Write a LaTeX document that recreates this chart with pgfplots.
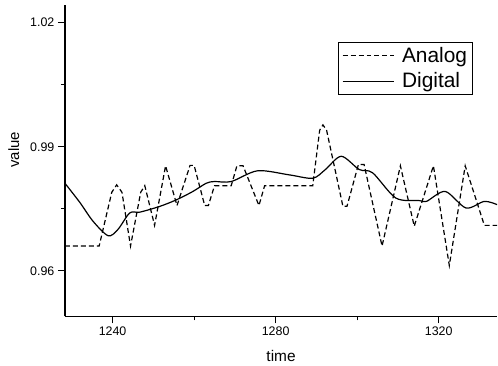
\documentclass[border=0pt]{standalone}
\usepackage{fontspec}
\setmainfont{Liberation Sans}
\usepackage{pgfplots}
\pgfplotsset{compat=1.18}
\begin{document}
\begin{tikzpicture}
\begin{axis}[
  name=ax, at={(0,0)}, anchor=south west,
  scale only axis, width=433bp, height=312bp,
  xmin=1228.3, xmax=1334.35,
  ymin=0.94897, ymax=1.02428,
  axis x line*=bottom, axis y line*=left,
  axis line style={-, line width=1.6bp},
  xtick={1240,1280,1320}, ytick={0.96,0.99,1.02},
  minor x tick num=1, minor y tick num=1,
  tick align=outside,
  major tick length=7bp, minor tick length=4bp,
  every tick/.style={line width=1.2bp, black},
  /pgf/number format/assume math mode=true,
  xticklabel style={/pgf/number format/1000 sep={}, font=\fontsize{12.5}{12.5}\selectfont},
  yticklabel style={/pgf/number format/fixed, /pgf/number format/fixed zerofill, /pgf/number format/precision=2, font=\fontsize{12.5}{12.5}\selectfont},
  xlabel={time}, ylabel={value},
  every axis x label/.style={at={(axis description cs:0.5,-0.127)}, anchor=center, font=\fontsize{15.5}{15.5}\selectfont},
  every axis y label/.style={at={(axis description cs:-0.118,0.535)}, rotate=90, anchor=center, font=\fontsize{15}{15}\selectfont},
  legend style={at={(axis description cs:0.943,0.882)}, anchor=north east, draw=black, line width=1bp,
    font=\fontsize{21}{23}\selectfont, inner xsep=3bp, inner ysep=3bp, row sep=5bp,
    /tikz/every odd column/.append style={column sep=5bp}},
  legend cell align=left,
  legend image code/.code={\draw[#1] (0bp,0bp) -- (52bp,0bp);},
]
\addplot[black, line width=1.2bp, dash pattern=on 5bp off 3bp] coordinates {
(1228.3,0.966) (1236.7,0.966) (1239.8,0.979) (1241.0,0.9808) (1242.3,0.979)
(1244.4,0.966) (1246.9,0.979) (1247.9,0.9806) (1250.3,0.971) (1253.0,0.9854)
(1255.8,0.9758) (1259.0,0.9855) (1260.0,0.9855) (1262.6,0.9758) (1263.5,0.9758)
(1265.0,0.9806) (1269.1,0.9806) (1270.5,0.9854) (1272.0,0.9854) (1275.9,0.9758)
(1277.3,0.9806) (1289.1,0.9806) (1290.8,0.994) (1291.6,0.9953) (1292.5,0.994)
(1296.5,0.9756) (1297.5,0.9756) (1300.3,0.9857) (1301.7,0.9857) (1306.1,0.966)
(1310.6,0.9854) (1314.0,0.9708) (1318.7,0.9854) (1322.6,0.9613) (1326.5,0.9854)
(1331.2,0.971) (1334.35,0.971)
};
\addlegendentry{Analog}
\addplot[black, line width=1.2bp, smooth, tension=0.5] coordinates {
(1228.3,0.9812) (1232.0,0.9765) (1235.2,0.972) (1238.9,0.9685) (1241.3,0.970)
(1244.2,0.974) (1246.7,0.9742) (1251.6,0.9756) (1255.7,0.9772) (1259.7,0.9792)
(1263.0,0.9812) (1265.0,0.9816) (1269.1,0.9816) (1275.6,0.9842) (1283.4,0.9832)
(1289.1,0.9824) (1292.2,0.9845) (1296.1,0.9877) (1300.5,0.9845) (1303.8,0.9837)
(1309.5,0.9776) (1315.2,0.977) (1317.0,0.9768) (1321.6,0.9792) (1326.7,0.9752)
(1331.2,0.9768) (1334.35,0.976)
};
\addlegendentry{Digital}
\end{axis}
\path[use as bounding box] (-65bp,-49bp) rectangle (433bp,317bp);
\end{tikzpicture}
\end{document}
